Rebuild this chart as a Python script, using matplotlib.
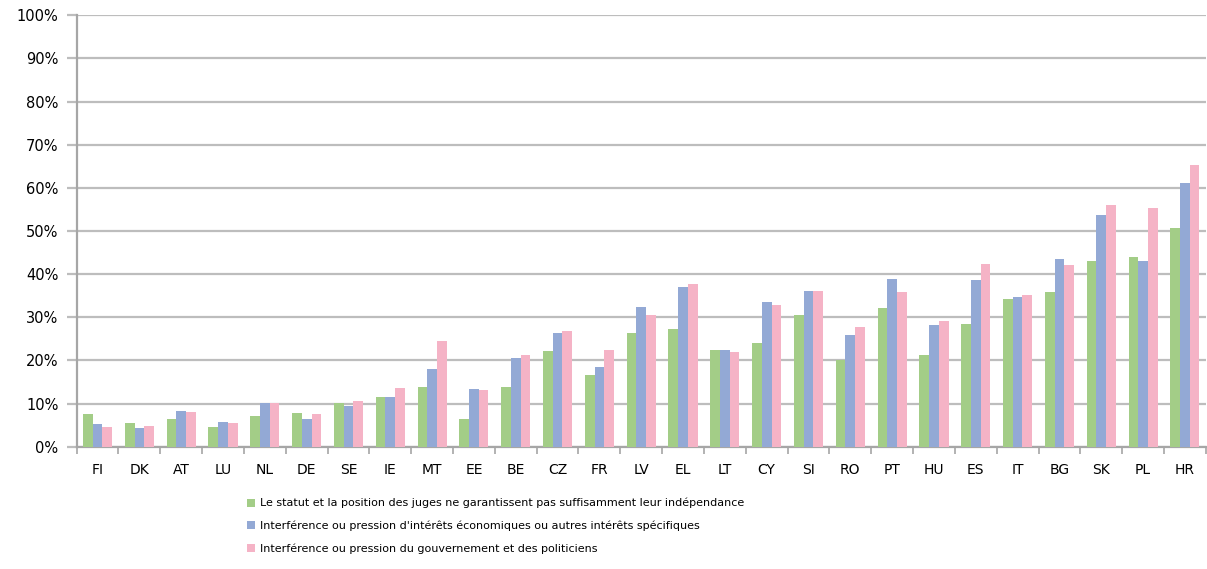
import matplotlib
matplotlib.use("Agg")
import matplotlib.pyplot as plt
import numpy as np
from matplotlib.ticker import FixedLocator, PercentFormatter

countries = ["FI", "DK", "AT", "LU", "NL", "DE", "SE", "IE", "MT", "EE", "BE", "CZ", "FR", "LV",
             "EL", "LT", "CY", "SI", "RO", "PT", "HU", "ES", "IT", "BG", "SK", "PL", "HR"]
statut = [7.5, 5.4, 6.5, 4.6, 7.2, 7.9, 10.2, 11.5, 13.8, 6.4, 13.9, 22.1, 16.7, 26.3,
          27.3, 22.5, 24.1, 30.5, 20.0, 32.2, 21.3, 28.5, 34.2, 35.9, 43.0, 43.9, 50.7]
economiques = [5.3, 4.3, 8.3, 5.7, 10.2, 6.3, 9.4, 11.6, 18.0, 13.3, 20.6, 26.3, 18.4, 32.3,
               37.0, 22.5, 33.5, 36.0, 25.9, 38.9, 28.1, 38.7, 34.6, 43.5, 53.6, 43.0, 61.2]
gouvernement = [4.6, 4.9, 8.1, 5.5, 10.2, 7.5, 10.6, 13.5, 24.6, 13.1, 21.3, 26.8, 22.4, 30.5,
                37.6, 22.0, 32.9, 36.0, 27.7, 35.8, 29.1, 42.4, 35.2, 42.1, 56.1, 55.4, 65.2]
labels = ["Le statut et la position des juges ne garantissent pas suffisamment leur indépendance",
          "Interférence ou pression d'intérêts économiques ou autres intérêts spécifiques",
          "Interférence ou pression du gouvernement et des politiciens"]
colors = ["#A3CD87", "#93A9D5", "#F5B3C6"]

fig = plt.figure(figsize=(12.07, 5.69), dpi=100)
ax = fig.add_axes([0.0635, 0.215, 0.9355, 0.758])

x = np.arange(len(countries))
w = 0.232
for i, (vals, c, lab) in enumerate(zip([statut, economiques, gouvernement], colors, labels)):
    ax.bar(x + (i - 1) * w, vals, width=w, color=c, label=lab, zorder=3)

ax.set_xlim(-0.5, len(countries) - 0.5)
ax.set_ylim(0, 100)
ax.set_yticks(np.arange(0, 101, 10))
ax.yaxis.set_major_formatter(PercentFormatter(decimals=0))
ax.grid(axis="y", color="#BDBDBD", linewidth=1.6, zorder=0)
ax.set_axisbelow(True)

ax.set_xticks(x)
ax.set_xticklabels(countries)
ax.xaxis.set_minor_locator(FixedLocator(np.arange(-0.5, len(countries), 1.0)))
ax.tick_params(axis="x", which="major", length=0, pad=12, labelsize=10, colors="black")
ax.tick_params(axis="x", which="minor", length=5, width=1.2, color="#A6A6A6", direction="out")
ax.tick_params(axis="y", which="major", length=7, width=1.6, color="#BDBDBD", pad=6, labelsize=10.5)

for s in ["top", "right"]:
    ax.spines[s].set_visible(False)
for s in ["left", "bottom"]:
    ax.spines[s].set_color("#A6A6A6")
    ax.spines[s].set_linewidth(1.6)

fig.legend(loc="upper left", bbox_to_anchor=(247 / 1207, 1 - 498 / 569), frameon=False,
           fontsize=8, handlelength=0.7, handleheight=0.7, handletextpad=0.5,
           labelspacing=1.1, borderaxespad=0, borderpad=0)

fig.savefig("out.png", dpi=100)
